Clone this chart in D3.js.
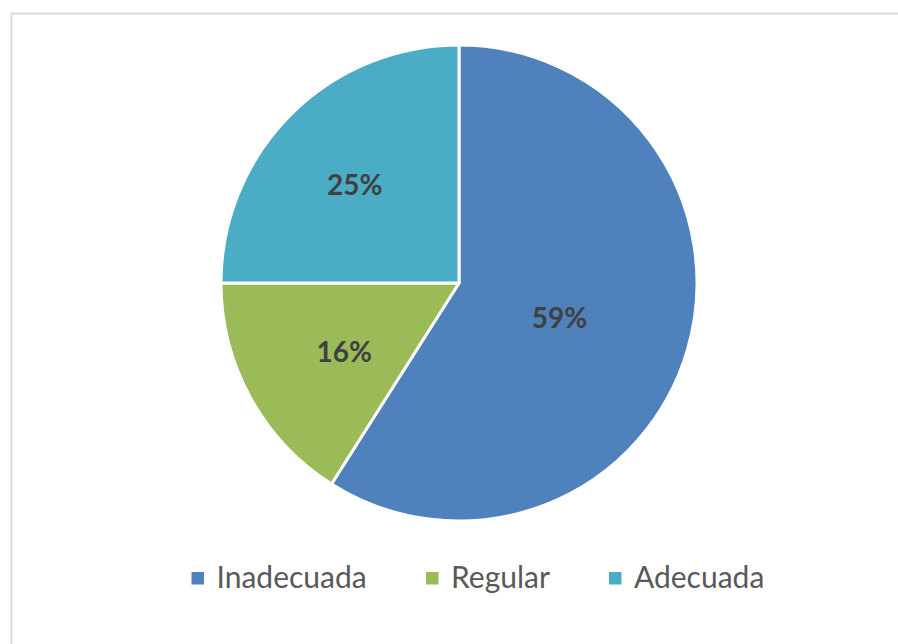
<!DOCTYPE html>
<html>
<head>
<meta charset="utf-8">
<script src="https://cdn.jsdelivr.net/npm/d3@7"></script>
<style>
  html, body { margin: 0; padding: 0; background: #fff; }
  svg { display: block; }
</style>
</head>
<body>
<svg id="chart" width="898" height="644"></svg>
<script>
const categories = ["Inadecuada", "Regular", "Adecuada"];
const values = [59, 16, 25];
const labels = ["59%", "16%", "25%"];
const colors = ["#4F81BD", "#9BBB59", "#4BACC6"];

const svg = d3.select("#chart");
const cx = 459, cy = 283, radius = 238;
// how far out each data label sits (fraction of radius), like excel's placement
const labelRadius = [0.44, 0.55, 0.62];
const labelShiftY = 6;

// chart area frame (runs off the right and bottom edges)
svg.append("rect")
  .attr("x", 11.5).attr("y", 13.5)
  .attr("width", 1000).attr("height", 1000)
  .attr("fill", "none")
  .attr("stroke", "#d9d9d9")
  .attr("stroke-width", 2);

const pie = d3.pie().sort(null).value(d => d);
const arcs = pie(values);
const arc = d3.arc().innerRadius(0).outerRadius(radius);

const g = svg.append("g").attr("transform", `translate(${cx},${cy})`);

g.selectAll("path")
  .data(arcs)
  .join("path")
  .attr("d", arc)
  .attr("fill", (d, i) => colors[i])
  .attr("stroke", "#fff")
  .attr("stroke-width", 3)
  .attr("stroke-linejoin", "round");

g.selectAll("text")
  .data(arcs)
  .join("text")
  .attr("transform", (d, i) => {
    const r = radius * labelRadius[i];
    const [x, y] = d3.arc().innerRadius(r).outerRadius(r).centroid(d);
    return `translate(${x},${y + labelShiftY})`;
  })
  .attr("text-anchor", "middle")
  .attr("dy", "0.36em")
  .attr("font-family", "Lato, 'Open Sans', sans-serif")
  .attr("font-weight", "bold")
  .attr("font-size", 28)
  .attr("fill", "#404040")
  .text((d, i) => labels[i]);

// legend
const legendX = d3.scaleOrdinal().domain(categories).range([191.5, 426, 609]);
const items = svg.append("g").selectAll("g")
  .data(categories)
  .join("g")
  .attr("transform", d => `translate(${legendX(d)},572)`);

items.append("rect")
  .attr("width", 12.5).attr("height", 12.5)
  .attr("fill", (d, i) => colors[i]);

items.append("text")
  .attr("x", 25)
  .attr("y", 16)
  .attr("font-family", "Lato, 'Open Sans', sans-serif")
  .attr("font-size", 30)
  .attr("fill", "#595959")
  .text(d => d);
</script>
</body>
</html>
